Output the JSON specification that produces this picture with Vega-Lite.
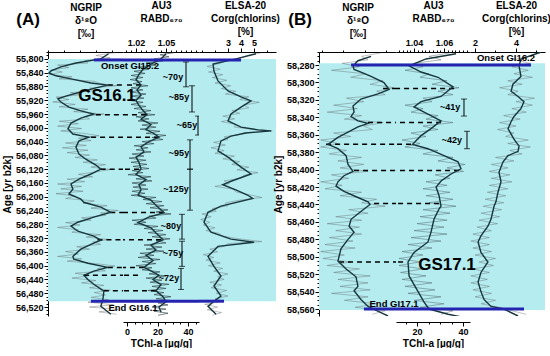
{
"$schema":"https://vega.github.io/schema/vega-lite/v6.json",
"padding":{"left":2,"top":0,"right":0,"bottom":0},
"bounds":"flush",
"spacing":0,
"datasets":{
"bgA":[{"age":55800,"age2":56503}],
"bgB":[{"age":58278,"age2":58561}],
"blueA_ng":[{"age":55803,"v":-41.63},{"age":56503,"v":-41.81}],
"blueA":[{"age":55803},{"age":56503}],
"blueA_el":[{"age":55803,"v":4.0},{"age":56503,"v":2.69}],
"blueB_ng":[{"age":58280,"v":-42.39},{"age":58560,"v":-41.79}],
"blueB":[{"age":58280},{"age":58560}],
"blueB_el":[{"age":58280,"v":4.73},{"age":58560,"v":4.39}],
"dashA_ng":[{"age":55876,"v":-40.75},{"age":55962,"v":-41.5},{"age":56027,"v":-41.8},{"age":56120,"v":-41.2},{"age":56246,"v":-40.6},{"age":56325,"v":-41.4},{"age":56405,"v":-40.75},{"age":56428,"v":-42.25},{"age":56473,"v":-41.0}],
"dashA_au":[{"age":55876,"v":1.025},{"age":55962,"v":1.030},{"age":56027,"v":1.043},{"age":56120,"v":1.023},{"age":56246,"v":1.048},{"age":56325,"v":1.045},{"age":56405,"v":1.028},{"age":56428,"v":1.022},{"age":56473,"v":1.040}],
"dashB_ng":[{"age":58307,"v":-40.90},{"age":58346,"v":-41.60},{"age":58371,"v":-43.55},{"age":58401,"v":-42.25},{"age":58439,"v":-41.32},{"age":58506,"v":-42.95}],
"dashB_au":[{"age":58307,"v":1.0667},{"age":58346,"v":1.058},{"age":58371,"v":1.038},{"age":58401,"v":1.070},{"age":58439,"v":1.0567},{"age":58506,"v":1.0327}],
"brA":[{"age":55809,"age2":55881,"v":1.070},{"age":55878,"age2":55954,"v":1.076},{"age":55966,"age2":56021,"v":1.082},{"age":56035,"age2":56120,"v":1.074},{"age":56120,"age2":56239,"v":1.074},{"age":56251,"age2":56323,"v":1.066},{"age":56329,"age2":56402,"v":1.066},{"age":56408,"age2":56469,"v":1.065}],
"labA":[{"age":55852,"v":1.057,"label":"~70y"},{"age":55910,"v":1.063,"label":"~85y"},{"age":55992,"v":1.071,"label":"~65y"},{"age":56073,"v":1.063,"label":"~95y"},{"age":56178,"v":1.060,"label":"~125y"},{"age":56285,"v":1.055,"label":"~80y"},{"age":56364,"v":1.057,"label":"~75y"},{"age":56437,"v":1.053,"label":"~72y"}],
"brB":[{"age":58319,"age2":58338.5,"v":1.0733},{"age":58356,"age2":58376,"v":1.0753}],
"labB":[{"age":58328,"v":1.064,"label":"~41y"},{"age":58366,"v":1.0653,"label":"~42y"}],
"evA":[{"age":55820,"v":1.014,"label":"Onset GI15.2"},{"age":56524,"v":1.017,"label":"End GI16.1"}],
"gsA":[{"age":55908,"v":0.991,"label":"GS16.1"}],
"evB_el":[{"age":58272,"v":3.51,"label":"Onset GI16.2"}],
"evB_au":[{"age":58554,"v":1.0267,"label":"End GI17.1"}],
"gsB":[{"age":58509.5,"v":0.634,"label":"GS17.1"}],
"ngA_s":[{"age":55785,"v":-40.70},{"age":55800,"v":-41.19},{"age":55812,"v":-42.75},{"age":55823,"v":-43.69},{"age":55835,"v":-44.31},{"age":55841,"v":-44.44},{"age":55849,"v":-44.00},{"age":55858,"v":-43.06},{"age":55870,"v":-41.81},{"age":55876,"v":-40.75},{"age":55884,"v":-41.50},{"age":55896,"v":-42.44},{"age":55908,"v":-43.38},{"age":55916,"v":-43.88},{"age":55925,"v":-43.69},{"age":55940,"v":-43.19},{"age":55951,"v":-42.44},{"age":55960,"v":-41.63},{"age":55972,"v":-42.44},{"age":55986,"v":-43.06},{"age":56003,"v":-43.25},{"age":56018,"v":-42.94},{"age":56027,"v":-41.94},{"age":56038,"v":-42.56},{"age":56056,"v":-42.75},{"age":56076,"v":-42.56},{"age":56091,"v":-42.13},{"age":56108,"v":-41.50},{"age":56120,"v":-41.19},{"age":56134,"v":-41.81},{"age":56149,"v":-42.56},{"age":56163,"v":-43.06},{"age":56178,"v":-42.94},{"age":56192,"v":-43.19},{"age":56207,"v":-42.44},{"age":56216,"v":-42.25},{"age":56230,"v":-41.19},{"age":56245,"v":-40.56},{"age":56259,"v":-41.63},{"age":56274,"v":-42.63},{"age":56285,"v":-43.06},{"age":56300,"v":-42.63},{"age":56314,"v":-41.63},{"age":56326,"v":-41.19},{"age":56338,"v":-41.81},{"age":56352,"v":-42.44},{"age":56373,"v":-42.94},{"age":56381,"v":-42.88},{"age":56393,"v":-42.00},{"age":56405,"v":-40.75},{"age":56416,"v":-41.63},{"age":56428,"v":-42.25},{"age":56440,"v":-42.00},{"age":56454,"v":-41.63},{"age":56474,"v":-41.00},{"age":56498,"v":-41.06},{"age":56518,"v":-41.19},{"age":56541,"v":-40.56}],
"ngA_r":[{"age":55782,"v":-40.3},{"age":55790,"v":-41.5},{"age":55797,"v":-40.6},{"age":55805,"v":-42.2},{"age":55812,"v":-42.0},{"age":55818,"v":-43.9},{"age":55825,"v":-43.2},{"age":55832,"v":-44.3},{"age":55838,"v":-43.6},{"age":55845,"v":-44.4},{"age":55852,"v":-43.0},{"age":55858,"v":-43.8},{"age":55865,"v":-41.6},{"age":55872,"v":-41.2},{"age":55878,"v":-40.2},{"age":55885,"v":-41.9},{"age":55891,"v":-41.3},{"age":55898,"v":-43.1},{"age":55904,"v":-42.4},{"age":55911,"v":-44.0},{"age":55918,"v":-43.2},{"age":55925,"v":-44.2},{"age":55932,"v":-42.8},{"age":55939,"v":-43.8},{"age":55946,"v":-42.0},{"age":55953,"v":-42.9},{"age":55960,"v":-41.0},{"age":55967,"v":-42.2},{"age":55974,"v":-41.9},{"age":55981,"v":-43.8},{"age":55988,"v":-42.6},{"age":55995,"v":-43.9},{"age":56002,"v":-42.4},{"age":56009,"v":-43.7},{"age":56016,"v":-42.3},{"age":56023,"v":-41.3},{"age":56030,"v":-42.6},{"age":56037,"v":-41.8},{"age":56044,"v":-43.4},{"age":56051,"v":-42.1},{"age":56058,"v":-43.6},{"age":56065,"v":-42.0},{"age":56072,"v":-43.3},{"age":56079,"v":-41.9},{"age":56086,"v":-42.8},{"age":56093,"v":-41.4},{"age":56100,"v":-42.3},{"age":56107,"v":-40.9},{"age":56114,"v":-41.8},{"age":56121,"v":-40.6},{"age":56128,"v":-41.5},{"age":56135,"v":-42.6},{"age":56142,"v":-41.7},{"age":56149,"v":-43.3},{"age":56156,"v":-42.2},{"age":56163,"v":-43.9},{"age":56170,"v":-42.4},{"age":56177,"v":-43.7},{"age":56184,"v":-42.3},{"age":56191,"v":-44.0},{"age":56198,"v":-42.8},{"age":56205,"v":-43.4},{"age":56212,"v":-41.6},{"age":56219,"v":-42.3},{"age":56226,"v":-40.8},{"age":56233,"v":-41.8},{"age":56240,"v":-40.1},{"age":56247,"v":-41.2},{"age":56254,"v":-40.9},{"age":56261,"v":-42.4},{"age":56268,"v":-41.8},{"age":56275,"v":-43.4},{"age":56282,"v":-42.5},{"age":56289,"v":-43.9},{"age":56296,"v":-42.6},{"age":56303,"v":-43.0},{"age":56310,"v":-41.2},{"age":56317,"v":-42.1},{"age":56324,"v":-40.7},{"age":56331,"v":-41.7},{"age":56338,"v":-41.2},{"age":56345,"v":-42.7},{"age":56352,"v":-41.9},{"age":56359,"v":-43.4},{"age":56366,"v":-42.6},{"age":56373,"v":-43.9},{"age":56380,"v":-42.4},{"age":56387,"v":-43.3},{"age":56394,"v":-41.5},{"age":56401,"v":-40.3},{"age":56408,"v":-41.4},{"age":56415,"v":-40.9},{"age":56422,"v":-42.8},{"age":56429,"v":-41.9},{"age":56436,"v":-43.0},{"age":56443,"v":-41.5},{"age":56450,"v":-42.4},{"age":56457,"v":-41.0},{"age":56464,"v":-41.9},{"age":56471,"v":-40.6},{"age":56478,"v":-41.6},{"age":56485,"v":-40.9},{"age":56492,"v":-41.8},{"age":56499,"v":-40.7},{"age":56506,"v":-42.0},{"age":56513,"v":-40.4},{"age":56520,"v":-41.9},{"age":56527,"v":-40.1},{"age":56534,"v":-41.3},{"age":56541,"v":-40.2}],
"auA_s":[{"age":55785,"v":1.050},{"age":55800,"v":1.045},{"age":55815,"v":1.035},{"age":55830,"v":1.027},{"age":55845,"v":1.023},{"age":55860,"v":1.020},{"age":55876,"v":1.025},{"age":55890,"v":1.021},{"age":55905,"v":1.025},{"age":55920,"v":1.020},{"age":55935,"v":1.023},{"age":55950,"v":1.027},{"age":55962,"v":1.031},{"age":55975,"v":1.025},{"age":55990,"v":1.035},{"age":56005,"v":1.030},{"age":56015,"v":1.037},{"age":56027,"v":1.043},{"age":56040,"v":1.033},{"age":56055,"v":1.025},{"age":56070,"v":1.028},{"age":56085,"v":1.020},{"age":56100,"v":1.023},{"age":56120,"v":1.025},{"age":56135,"v":1.020},{"age":56150,"v":1.030},{"age":56165,"v":1.023},{"age":56180,"v":1.025},{"age":56195,"v":1.022},{"age":56210,"v":1.035},{"age":56225,"v":1.040},{"age":56246,"v":1.048},{"age":56260,"v":1.032},{"age":56275,"v":1.022},{"age":56290,"v":1.035},{"age":56305,"v":1.040},{"age":56325,"v":1.047},{"age":56340,"v":1.035},{"age":56355,"v":1.040},{"age":56370,"v":1.030},{"age":56385,"v":1.037},{"age":56405,"v":1.028},{"age":56415,"v":1.035},{"age":56428,"v":1.043},{"age":56440,"v":1.037},{"age":56455,"v":1.045},{"age":56473,"v":1.040},{"age":56490,"v":1.047},{"age":56505,"v":1.050},{"age":56520,"v":1.043},{"age":56535,"v":1.045}],
"auA_r":[{"age":55782,"v":1.058},{"age":55788,"v":1.044},{"age":55794,"v":1.053},{"age":55800,"v":1.038},{"age":55806,"v":1.047},{"age":55812,"v":1.030},{"age":55818,"v":1.040},{"age":55824,"v":1.022},{"age":55830,"v":1.033},{"age":55836,"v":1.018},{"age":55842,"v":1.029},{"age":55848,"v":1.015},{"age":55854,"v":1.027},{"age":55860,"v":1.014},{"age":55866,"v":1.026},{"age":55872,"v":1.017},{"age":55878,"v":1.032},{"age":55884,"v":1.015},{"age":55890,"v":1.027},{"age":55896,"v":1.014},{"age":55902,"v":1.030},{"age":55908,"v":1.016},{"age":55914,"v":1.028},{"age":55920,"v":1.013},{"age":55926,"v":1.027},{"age":55932,"v":1.015},{"age":55938,"v":1.030},{"age":55944,"v":1.018},{"age":55950,"v":1.035},{"age":55956,"v":1.022},{"age":55962,"v":1.039},{"age":55968,"v":1.020},{"age":55974,"v":1.033},{"age":55980,"v":1.022},{"age":55986,"v":1.042},{"age":55992,"v":1.026},{"age":55998,"v":1.040},{"age":56004,"v":1.024},{"age":56010,"v":1.044},{"age":56016,"v":1.030},{"age":56022,"v":1.050},{"age":56028,"v":1.036},{"age":56034,"v":1.047},{"age":56040,"v":1.026},{"age":56046,"v":1.038},{"age":56052,"v":1.018},{"age":56058,"v":1.032},{"age":56064,"v":1.020},{"age":56070,"v":1.035},{"age":56076,"v":1.016},{"age":56082,"v":1.028},{"age":56088,"v":1.013},{"age":56094,"v":1.030},{"age":56100,"v":1.015},{"age":56106,"v":1.031},{"age":56112,"v":1.017},{"age":56118,"v":1.033},{"age":56124,"v":1.016},{"age":56130,"v":1.027},{"age":56136,"v":1.012},{"age":56142,"v":1.035},{"age":56148,"v":1.020},{"age":56154,"v":1.036},{"age":56160,"v":1.016},{"age":56166,"v":1.030},{"age":56172,"v":1.017},{"age":56178,"v":1.032},{"age":56184,"v":1.016},{"age":56190,"v":1.029},{"age":56196,"v":1.015},{"age":56202,"v":1.040},{"age":56208,"v":1.027},{"age":56214,"v":1.046},{"age":56220,"v":1.030},{"age":56226,"v":1.048},{"age":56232,"v":1.034},{"age":56238,"v":1.052},{"age":56244,"v":1.040},{"age":56250,"v":1.055},{"age":56256,"v":1.033},{"age":56262,"v":1.040},{"age":56268,"v":1.016},{"age":56274,"v":1.030},{"age":56280,"v":1.018},{"age":56286,"v":1.042},{"age":56292,"v":1.028},{"age":56298,"v":1.047},{"age":56304,"v":1.032},{"age":56310,"v":1.050},{"age":56316,"v":1.036},{"age":56322,"v":1.054},{"age":56328,"v":1.040},{"age":56334,"v":1.050},{"age":56340,"v":1.028},{"age":56346,"v":1.046},{"age":56352,"v":1.030},{"age":56358,"v":1.048},{"age":56364,"v":1.024},{"age":56370,"v":1.038},{"age":56376,"v":1.022},{"age":56382,"v":1.044},{"age":56388,"v":1.026},{"age":56394,"v":1.040},{"age":56400,"v":1.020},{"age":56406,"v":1.036},{"age":56412,"v":1.026},{"age":56418,"v":1.044},{"age":56424,"v":1.033},{"age":56430,"v":1.050},{"age":56436,"v":1.030},{"age":56442,"v":1.046},{"age":56448,"v":1.034},{"age":56454,"v":1.053},{"age":56460,"v":1.036},{"age":56466,"v":1.050},{"age":56472,"v":1.032},{"age":56478,"v":1.048},{"age":56484,"v":1.038},{"age":56490,"v":1.055},{"age":56496,"v":1.040},{"age":56502,"v":1.058},{"age":56508,"v":1.042},{"age":56514,"v":1.052},{"age":56520,"v":1.036},{"age":56526,"v":1.050},{"age":56532,"v":1.038},{"age":56538,"v":1.052},{"age":56544,"v":1.042}],
"elA_s":[{"age":55785,"v":5.15},{"age":55800,"v":3.62},{"age":55815,"v":1.85},{"age":55835,"v":1.92},{"age":55864,"v":2.23},{"age":55893,"v":3.00},{"age":55910,"v":4.00},{"age":55922,"v":4.77},{"age":55940,"v":4.00},{"age":55960,"v":3.23},{"age":55980,"v":3.00},{"age":55998,"v":4.00},{"age":56006,"v":5.31},{"age":56009,"v":6.31},{"age":56015,"v":4.38},{"age":56024,"v":3.23},{"age":56038,"v":2.46},{"age":56067,"v":2.23},{"age":56085,"v":3.00},{"age":56114,"v":4.00},{"age":56134,"v":4.77},{"age":56155,"v":3.23},{"age":56165,"v":2.6},{"age":56180,"v":3.6},{"age":56195,"v":4.5},{"age":56205,"v":4.9},{"age":56227,"v":2.46},{"age":56245,"v":1.46},{"age":56274,"v":1.15},{"age":56303,"v":1.69},{"age":56323,"v":3.23},{"age":56332,"v":5.00},{"age":56344,"v":2.23},{"age":56373,"v":1.46},{"age":56402,"v":1.92},{"age":56430,"v":2.46},{"age":56459,"v":1.92},{"age":56488,"v":2.46},{"age":56503,"v":1.92},{"age":56518,"v":1.46},{"age":56541,"v":2.08}],
"elA_r":[{"age":55782,"v":5.6},{"age":55790,"v":4.5},{"age":55798,"v":3.9},{"age":55806,"v":2.8},{"age":55814,"v":2.3},{"age":55822,"v":1.4},{"age":55830,"v":2.4},{"age":55838,"v":1.5},{"age":55846,"v":2.6},{"age":55854,"v":1.8},{"age":55862,"v":2.9},{"age":55870,"v":2.0},{"age":55878,"v":3.2},{"age":55886,"v":2.5},{"age":55894,"v":3.6},{"age":55902,"v":2.8},{"age":55910,"v":4.6},{"age":55918,"v":3.9},{"age":55926,"v":5.4},{"age":55934,"v":4.2},{"age":55942,"v":4.6},{"age":55950,"v":3.3},{"age":55958,"v":3.9},{"age":55966,"v":2.6},{"age":55974,"v":3.5},{"age":55982,"v":2.5},{"age":55990,"v":3.6},{"age":55998,"v":3.5},{"age":56004,"v":4.8},{"age":56009,"v":6.4},{"age":56014,"v":4.2},{"age":56020,"v":3.8},{"age":56026,"v":2.7},{"age":56034,"v":3.0},{"age":56042,"v":1.9},{"age":56050,"v":2.8},{"age":56058,"v":1.7},{"age":56066,"v":2.7},{"age":56074,"v":2.0},{"age":56082,"v":3.5},{"age":56090,"v":2.6},{"age":56098,"v":3.9},{"age":56106,"v":3.3},{"age":56114,"v":4.6},{"age":56122,"v":3.7},{"age":56130,"v":5.3},{"age":56138,"v":4.2},{"age":56146,"v":4.0},{"age":56154,"v":2.7},{"age":56162,"v":3.1},{"age":56170,"v":2.0},{"age":56178,"v":3.4},{"age":56186,"v":3.6},{"age":56194,"v":4.6},{"age":56202,"v":5.6},{"age":56210,"v":3.9},{"age":56218,"v":2.8},{"age":56226,"v":3.0},{"age":56234,"v":1.8},{"age":56242,"v":2.1},{"age":56250,"v":1.0},{"age":56258,"v":1.7},{"age":56266,"v":0.9},{"age":56274,"v":1.6},{"age":56282,"v":1.1},{"age":56290,"v":2.0},{"age":56298,"v":1.3},{"age":56306,"v":2.3},{"age":56314,"v":2.6},{"age":56322,"v":3.8},{"age":56330,"v":5.6},{"age":56336,"v":3.0},{"age":56344,"v":2.7},{"age":56352,"v":1.6},{"age":56360,"v":2.2},{"age":56368,"v":1.1},{"age":56376,"v":1.9},{"age":56384,"v":1.3},{"age":56392,"v":2.4},{"age":56400,"v":1.5},{"age":56408,"v":2.6},{"age":56416,"v":1.9},{"age":56424,"v":3.0},{"age":56432,"v":2.2},{"age":56440,"v":2.7},{"age":56448,"v":1.6},{"age":56456,"v":2.5},{"age":56464,"v":1.7},{"age":56472,"v":2.9},{"age":56480,"v":2.1},{"age":56488,"v":3.0},{"age":56496,"v":2.0},{"age":56504,"v":2.6},{"age":56512,"v":1.2},{"age":56520,"v":2.2},{"age":56528,"v":1.4},{"age":56536,"v":2.5},{"age":56544,"v":1.8}],
"ngB_s":[{"age":58270,"v":-41.46},{"age":58275,"v":-42.07},{"age":58281,"v":-42.30},{"age":58285,"v":-42.25},{"age":58288,"v":-41.93},{"age":58293,"v":-41.46},{"age":58300,"v":-40.86},{"age":58308,"v":-40.62},{"age":58313,"v":-41.14},{"age":58319,"v":-41.93},{"age":58327,"v":-42.30},{"age":58334,"v":-42.25},{"age":58339,"v":-42.39},{"age":58344,"v":-42.07},{"age":58347,"v":-41.60},{"age":58351,"v":-42.07},{"age":58357,"v":-42.53},{"age":58363,"v":-43.00},{"age":58371,"v":-43.46},{"age":58376,"v":-43.00},{"age":58384,"v":-42.62},{"age":58394,"v":-42.53},{"age":58402,"v":-42.30},{"age":58407,"v":-42.72},{"age":58414,"v":-43.00},{"age":58419,"v":-43.09},{"age":58425,"v":-42.72},{"age":58432,"v":-42.07},{"age":58437,"v":-41.60},{"age":58440,"v":-41.51},{"age":58448,"v":-41.93},{"age":58457,"v":-42.39},{"age":58465,"v":-42.48},{"age":58472,"v":-42.25},{"age":58480,"v":-42.53},{"age":58491,"v":-42.86},{"age":58505,"v":-43.00},{"age":58514,"v":-42.62},{"age":58523,"v":-42.16},{"age":58534,"v":-42.07},{"age":58539,"v":-42.25},{"age":58549,"v":-41.93},{"age":58557,"v":-41.60},{"age":58564,"v":-41.00},{"age":58568,"v":-40.67}],
"ngB_r":[{"age":58266,"v":-41.0},{"age":58270,"v":-41.9},{"age":58274,"v":-41.6},{"age":58278,"v":-42.8},{"age":58282,"v":-42.0},{"age":58286,"v":-43.3},{"age":58290,"v":-41.7},{"age":58294,"v":-42.4},{"age":58298,"v":-40.9},{"age":58302,"v":-41.5},{"age":58306,"v":-40.4},{"age":58310,"v":-41.2},{"age":58314,"v":-40.8},{"age":58318,"v":-42.6},{"age":58322,"v":-41.8},{"age":58326,"v":-43.2},{"age":58330,"v":-42.1},{"age":58334,"v":-43.5},{"age":58338,"v":-41.9},{"age":58342,"v":-42.7},{"age":58346,"v":-40.9},{"age":58350,"v":-41.8},{"age":58354,"v":-41.4},{"age":58358,"v":-43.2},{"age":58362,"v":-42.4},{"age":58366,"v":-43.8},{"age":58370,"v":-43.0},{"age":58374,"v":-43.8},{"age":58378,"v":-42.6},{"age":58382,"v":-43.4},{"age":58386,"v":-41.9},{"age":58390,"v":-43.0},{"age":58394,"v":-41.8},{"age":58398,"v":-42.9},{"age":58402,"v":-41.6},{"age":58406,"v":-43.3},{"age":58410,"v":-42.5},{"age":58414,"v":-43.8},{"age":58418,"v":-42.8},{"age":58422,"v":-43.6},{"age":58426,"v":-41.9},{"age":58430,"v":-42.9},{"age":58434,"v":-41.2},{"age":58438,"v":-41.9},{"age":58442,"v":-40.8},{"age":58446,"v":-42.5},{"age":58450,"v":-41.6},{"age":58454,"v":-43.1},{"age":58458,"v":-41.9},{"age":58462,"v":-43.5},{"age":58466,"v":-42.0},{"age":58470,"v":-43.1},{"age":58474,"v":-41.9},{"age":58478,"v":-43.4},{"age":58482,"v":-42.3},{"age":58486,"v":-43.6},{"age":58490,"v":-42.2},{"age":58494,"v":-43.8},{"age":58498,"v":-42.7},{"age":58502,"v":-43.7},{"age":58506,"v":-42.4},{"age":58510,"v":-43.5},{"age":58514,"v":-42.0},{"age":58518,"v":-43.2},{"age":58522,"v":-41.5},{"age":58526,"v":-43.0},{"age":58530,"v":-41.6},{"age":58534,"v":-42.9},{"age":58538,"v":-41.5},{"age":58542,"v":-43.3},{"age":58546,"v":-41.6},{"age":58550,"v":-42.7},{"age":58554,"v":-41.2},{"age":58558,"v":-42.2},{"age":58562,"v":-40.8},{"age":58566,"v":-41.4}],
"auB_s":[{"age":58267,"v":1.068},{"age":58273,"v":1.048},{"age":58281,"v":1.0367},{"age":58288,"v":1.0447},{"age":58294,"v":1.056},{"age":58305,"v":1.066},{"age":58316,"v":1.058},{"age":58322,"v":1.0447},{"age":58328,"v":1.040},{"age":58334,"v":1.0467},{"age":58344,"v":1.058},{"age":58353,"v":1.0513},{"age":58361,"v":1.0447},{"age":58371,"v":1.039},{"age":58376,"v":1.0493},{"age":58384,"v":1.060},{"age":58391,"v":1.0693},{"age":58399,"v":1.0713},{"age":58405,"v":1.0647},{"age":58413,"v":1.058},{"age":58420,"v":1.0547},{"age":58430,"v":1.0567},{"age":58442,"v":1.058},{"age":58445,"v":1.0567},{"age":58457,"v":1.0533},{"age":58472,"v":1.0513},{"age":58483,"v":1.0493},{"age":58495,"v":1.040},{"age":58506,"v":1.036},{"age":58522,"v":1.0367},{"age":58540,"v":1.0427},{"age":58552,"v":1.0467},{"age":58560,"v":1.050},{"age":58566,"v":1.0627},{"age":58569,"v":1.0713}],
"auB_r":[{"age":58266,"v":1.064},{"age":58270,"v":1.050},{"age":58274,"v":1.058},{"age":58278,"v":1.040},{"age":58282,"v":1.046},{"age":58286,"v":1.034},{"age":58290,"v":1.050},{"age":58294,"v":1.044},{"age":58298,"v":1.062},{"age":58302,"v":1.052},{"age":58306,"v":1.070},{"age":58310,"v":1.056},{"age":58314,"v":1.066},{"age":58318,"v":1.046},{"age":58322,"v":1.052},{"age":58326,"v":1.034},{"age":58330,"v":1.046},{"age":58334,"v":1.038},{"age":58338,"v":1.056},{"age":58342,"v":1.048},{"age":58346,"v":1.066},{"age":58350,"v":1.046},{"age":58354,"v":1.056},{"age":58358,"v":1.038},{"age":58362,"v":1.048},{"age":58366,"v":1.032},{"age":58370,"v":1.044},{"age":58374,"v":1.034},{"age":58378,"v":1.056},{"age":58382,"v":1.046},{"age":58386,"v":1.066},{"age":58390,"v":1.056},{"age":58394,"v":1.074},{"age":58398,"v":1.062},{"age":58402,"v":1.073},{"age":58406,"v":1.054},{"age":58410,"v":1.064},{"age":58414,"v":1.048},{"age":58418,"v":1.062},{"age":58422,"v":1.046},{"age":58426,"v":1.064},{"age":58430,"v":1.048},{"age":58434,"v":1.066},{"age":58438,"v":1.050},{"age":58442,"v":1.068},{"age":58446,"v":1.046},{"age":58450,"v":1.064},{"age":58454,"v":1.044},{"age":58458,"v":1.062},{"age":58462,"v":1.042},{"age":58466,"v":1.060},{"age":58470,"v":1.040},{"age":58474,"v":1.062},{"age":58478,"v":1.038},{"age":58482,"v":1.058},{"age":58486,"v":1.036},{"age":58490,"v":1.052},{"age":58494,"v":1.032},{"age":58498,"v":1.046},{"age":58502,"v":1.030},{"age":58506,"v":1.044},{"age":58510,"v":1.030},{"age":58514,"v":1.046},{"age":58518,"v":1.031},{"age":58522,"v":1.048},{"age":58526,"v":1.032},{"age":58530,"v":1.052},{"age":58534,"v":1.034},{"age":58538,"v":1.054},{"age":58542,"v":1.036},{"age":58546,"v":1.058},{"age":58550,"v":1.040},{"age":58554,"v":1.060},{"age":58558,"v":1.044},{"age":58562,"v":1.066},{"age":58566,"v":1.058}],
"elB_s":[{"age":58265,"v":5.22},{"age":58273,"v":4.24},{"age":58281,"v":4.15},{"age":58293,"v":4.24},{"age":58302,"v":3.85},{"age":58310,"v":3.76},{"age":58316,"v":4.10},{"age":58322,"v":4.39},{"age":58330,"v":4.24},{"age":58339,"v":3.90},{"age":58345,"v":3.76},{"age":58353,"v":3.61},{"age":58365,"v":3.90},{"age":58373,"v":4.15},{"age":58379,"v":4.10},{"age":58384,"v":3.61},{"age":58391,"v":3.37},{"age":58403,"v":3.17},{"age":58414,"v":3.27},{"age":58426,"v":3.12},{"age":58437,"v":3.02},{"age":58442,"v":2.93},{"age":58457,"v":2.78},{"age":58465,"v":2.63},{"age":58476,"v":2.29},{"age":58483,"v":2.15},{"age":58495,"v":2.29},{"age":58506,"v":2.63},{"age":58518,"v":2.29},{"age":58529,"v":2.15},{"age":58540,"v":2.29},{"age":58549,"v":2.44},{"age":58557,"v":2.78},{"age":58560,"v":3.40},{"age":58568,"v":4.10}],
"elB_r":[{"age":58266,"v":5.2},{"age":58270,"v":4.6},{"age":58274,"v":3.9},{"age":58278,"v":4.7},{"age":58282,"v":3.8},{"age":58286,"v":4.6},{"age":58290,"v":3.9},{"age":58294,"v":4.8},{"age":58298,"v":3.6},{"age":58302,"v":4.3},{"age":58306,"v":3.2},{"age":58310,"v":4.1},{"age":58314,"v":3.6},{"age":58318,"v":4.9},{"age":58322,"v":4.0},{"age":58326,"v":4.8},{"age":58330,"v":3.8},{"age":58334,"v":4.5},{"age":58338,"v":3.4},{"age":58342,"v":4.2},{"age":58346,"v":3.2},{"age":58350,"v":4.0},{"age":58354,"v":3.1},{"age":58358,"v":3.9},{"age":58362,"v":3.5},{"age":58366,"v":4.6},{"age":58370,"v":3.6},{"age":58374,"v":4.7},{"age":58378,"v":3.7},{"age":58382,"v":4.3},{"age":58386,"v":3.0},{"age":58390,"v":3.9},{"age":58394,"v":2.8},{"age":58398,"v":3.6},{"age":58402,"v":2.7},{"age":58406,"v":3.7},{"age":58410,"v":2.8},{"age":58414,"v":3.8},{"age":58418,"v":2.7},{"age":58422,"v":3.6},{"age":58426,"v":2.6},{"age":58430,"v":3.5},{"age":58434,"v":2.5},{"age":58438,"v":3.4},{"age":58442,"v":2.4},{"age":58446,"v":3.3},{"age":58450,"v":2.3},{"age":58454,"v":3.2},{"age":58458,"v":2.2},{"age":58462,"v":3.1},{"age":58466,"v":2.1},{"age":58470,"v":2.8},{"age":58474,"v":1.9},{"age":58478,"v":2.7},{"age":58482,"v":1.8},{"age":58486,"v":2.7},{"age":58490,"v":1.9},{"age":58494,"v":2.8},{"age":58498,"v":2.0},{"age":58502,"v":3.0},{"age":58506,"v":2.2},{"age":58510,"v":2.9},{"age":58514,"v":1.9},{"age":58518,"v":2.7},{"age":58522,"v":1.8},{"age":58526,"v":2.6},{"age":58530,"v":1.8},{"age":58534,"v":2.7},{"age":58538,"v":1.9},{"age":58542,"v":2.8},{"age":58546,"v":2.0},{"age":58550,"v":3.0},{"age":58554,"v":2.3},{"age":58558,"v":3.2},{"age":58562,"v":3.8},{"age":58566,"v":4.5}]
},
"hconcat":[
{
"width":75,"height":264,
"encoding":{
"y":{"field":"age","type":"quantitative","scale":{"domain":[55780,56546],"reverse":true,"nice":false,"zero":false},
"axis":{"title":"Age [yr b2k]","format":",d","values":[55780,55790,55800,55810,55820,55830,55840,55850,55860,55870,55880,55890,55900,55910,55920,55930,55940,55950,55960,55970,55980,55990,56000,56010,56020,56030,56040,56050,56060,56070,56080,56090,56100,56110,56120,56130,56140,56150,56160,56170,56180,56190,56200,56210,56220,56230,56240,56250,56260,56270,56280,56290,56300,56310,56320,56330,56340,56350,56360,56370,56380,56390,56400,56410,56420,56430,56440,56450,56460,56470,56480,56490,56500,56510,56520,56530,56540],"labelExpr":"datum.value % 40 == 0 ? datum.label : ''","tickSize":{"condition":{"test":"datum.value % 40 == 0","value":4},"value":2},"titlePadding":3,"labelPadding":1}},
"x":{"field":"v","type":"quantitative","scale":{"domain":[-44.5,-39.8],"nice":false,"zero":false},
"axis":{"orient":"top","title":["NGRIP","δ¹⁸O","[‰]"],"format":"d","values":[-44.5,-44,-43.5,-43,-42.5,-42,-41.5,-41,-40.5,-40],"labelExpr":"datum.value == -44 || datum.value == -42 ? datum.label : ''","tickSize":{"condition":{"test":"datum.value == -44 || datum.value == -42","value":4},"value":2},"labelPadding":1,"titlePadding":2}}
},
"layer":[
{"data":{"name":"bgA"},"mark":{"type":"rect","color":"#b4ecf0"},"encoding":{"x":{"value":0},"x2":{"value":"width"},"y2":{"field":"age2"}}},
{"data":{"name":"ngA_r"},"mark":{"type":"line","color":"#555555","opacity":0.45,"strokeWidth":0.8,"clip":true},"encoding":{"order":{"field":"age"}}},
{"data":{"name":"dashA_ng"},"mark":{"type":"rule","color":"#000000","strokeDash":[5,4],"strokeWidth":1.5},"encoding":{"x2":{"datum":-39.8}}},
{"data":{"name":"ngA_s"},"mark":{"type":"line","color":"#17363d","strokeWidth":1.4,"clip":true},"encoding":{"order":{"field":"age"}}},
{"data":{"name":"blueA_ng"},"mark":{"type":"rule","color":"#2424b0","strokeWidth":3},"encoding":{"x2":{"datum":-39.8}}},
{"data":{"values":[{"age":55687,"v":-45.75,"label":"(A)"}]},"mark":{"type":"text","fontSize":17,"fontWeight":"bold"},"encoding":{"text":{"field":"label","type":"nominal"}}}
]
},
{
"width":76,"height":264,
"encoding":{"y":{"field":"age","type":"quantitative","scale":{"domain":[55780,56546],"reverse":true,"nice":false,"zero":false},"axis":null}},
"resolve":{"scale":{"x":"independent"},"axis":{"x":"independent"}},
"layer":[
{"encoding":{"x":{"field":"v","type":"quantitative","scale":{"domain":[1.007,1.083],"nice":false,"zero":false},
"axis":{"orient":"top","title":["AU3","RABD₆₇₀"," "],"format":".2f","values":[1.01,1.015,1.02,1.025,1.03,1.035,1.04,1.045,1.05,1.055,1.06,1.065,1.07,1.075,1.08],"labelExpr":"abs(datum.value-1.02)<0.000001 || abs(datum.value-1.05)<0.000001 ? datum.label : ''","tickSize":{"condition":{"test":"abs(datum.value-1.02)<0.000001 || abs(datum.value-1.05)<0.000001","value":4},"value":2},"labelPadding":1,"titlePadding":2}}},
"layer":[
{"data":{"name":"bgA"},"mark":{"type":"rect","color":"#b4ecf0"},"encoding":{"x":{"value":0},"x2":{"value":"width"},"y2":{"field":"age2"}}},
{"data":{"name":"auA_r"},"mark":{"type":"line","color":"#2c4043","opacity":0.7,"strokeWidth":0.9,"clip":true},"encoding":{"order":{"field":"age"}}},
{"data":{"name":"dashA_au"},"mark":{"type":"rule","color":"#000000","strokeDash":[5,4],"strokeWidth":1.5},"encoding":{"x2":{"datum":1.007}}},
{"data":{"name":"auA_s"},"mark":{"type":"line","color":"#17363d","strokeWidth":1.4,"clip":true},"encoding":{"order":{"field":"age"}}},
{"data":{"name":"blueA"},"mark":{"type":"rule","color":"#2424b0","strokeWidth":3},"encoding":{"x":{"value":0},"x2":{"value":"width"}}},
{"data":{"name":"brA"},"mark":{"type":"errorbar","ticks":true,"color":"#000000","size":6,"thickness":1},"encoding":{"y2":{"field":"age2"}}},
{"data":{"name":"labA"},"mark":{"type":"text","fontSize":9,"fontWeight":"bold"},"encoding":{"text":{"field":"label","type":"nominal"}}},
{"data":{"name":"evA"},"mark":{"type":"text","fontSize":9.5,"fontWeight":"bold"},"encoding":{"text":{"field":"label","type":"nominal"}}},
{"data":{"name":"gsA"},"mark":{"type":"text","fontSize":17,"fontWeight":"bold"},"encoding":{"text":{"field":"label","type":"nominal"}}}
]},
{"data":{"values":[{"t":0,"age":56540},{"t":40,"age":56540}]},"mark":{"type":"point","opacity":0},
"encoding":{"x":{"field":"t","type":"quantitative","scale":{"domain":[-2.62,47.2],"nice":false,"zero":false},
"axis":{"orient":"bottom","offset":6,"title":"TChl-a [µg/g]","format":"d","values":[0,5,10,15,20,25,30,35,40,45],"labelExpr":"datum.value % 20 == 0 ? datum.label : ''","tickSize":{"condition":{"test":"datum.value % 20 == 0","value":4},"value":2},"labelPadding":1,"titlePadding":2}}}}
]
},
{
"width":77,"height":264,
"encoding":{
"y":{"field":"age","type":"quantitative","scale":{"domain":[55780,56546],"reverse":true,"nice":false,"zero":false},"axis":null},
"x":{"field":"v","type":"quantitative","scale":{"domain":[0.77,6.69],"nice":false,"zero":false},
"axis":{"orient":"top","title":["ELSA-20","Corg(chlorins)","[%]"],"titleX":46,"format":"d","values":[1,1.25,1.5,1.75,2,2.25,2.5,2.75,3,3.25,3.5,3.75,4,4.25,4.5,4.75,5,5.25,5.5,5.75,6,6.25,6.5],"labelExpr":"datum.value == 3 || datum.value == 4 || datum.value == 5 ? datum.label : ''","tickSize":{"condition":{"test":"datum.value == 3 || datum.value == 4 || datum.value == 5","value":4},"value":2},"labelPadding":1,"titlePadding":2}}
},
"layer":[
{"data":{"name":"bgA"},"mark":{"type":"rect","color":"#b4ecf0"},"encoding":{"x":{"value":0},"x2":{"value":"width"},"y2":{"field":"age2"}}},
{"data":{"name":"elA_r"},"mark":{"type":"line","color":"#555555","opacity":0.45,"strokeWidth":0.8,"clip":true},"encoding":{"order":{"field":"age"}}},
{"data":{"name":"elA_s"},"mark":{"type":"line","color":"#17363d","strokeWidth":1.4,"clip":true},"encoding":{"order":{"field":"age"}}},
{"data":{"name":"blueA_el"},"mark":{"type":"rule","color":"#2424b0","strokeWidth":3},"encoding":{"x2":{"datum":0.77}}}
]
},
{"width":43,"height":264,"data":{"values":[{}]},"mark":{"type":"point","opacity":0}},
{
"width":77,"height":264,
"encoding":{
"y":{"field":"age","type":"quantitative","scale":{"domain":[58265,58568],"reverse":true,"nice":false,"zero":false},
"axis":{"title":"Age [yr b2k]","format":",d","values":[58265,58270,58275,58280,58285,58290,58295,58300,58305,58310,58315,58320,58325,58330,58335,58340,58345,58350,58355,58360,58365,58370,58375,58380,58385,58390,58395,58400,58405,58410,58415,58420,58425,58430,58435,58440,58445,58450,58455,58460,58465,58470,58475,58480,58485,58490,58495,58500,58505,58510,58515,58520,58525,58530,58535,58540,58545,58550,58555,58560,58565],"labelExpr":"datum.value % 20 == 0 ? datum.label : ''","tickSize":{"condition":{"test":"datum.value % 20 == 0","value":4},"value":2},"titlePadding":3,"labelPadding":1}},
"x":{"field":"v","type":"quantitative","scale":{"domain":[-43.88,-40.3],"nice":false,"zero":false},
"axis":{"orient":"top","title":["NGRIP","δ¹⁸O","[‰]"],"format":"d","values":[-43.75,-43.5,-43.25,-43,-42.75,-42.5,-42.25,-42,-41.75,-41.5,-41.25,-41,-40.75,-40.5],"labelExpr":"datum.value == -43 || datum.value == -42 || datum.value == -41 ? datum.label : ''","tickSize":{"condition":{"test":"datum.value == -43 || datum.value == -42 || datum.value == -41","value":4},"value":2},"labelPadding":1,"titlePadding":2}}
},
"layer":[
{"data":{"name":"bgB"},"mark":{"type":"rect","color":"#b4ecf0"},"encoding":{"x":{"value":0},"x2":{"value":"width"},"y2":{"field":"age2"}}},
{"data":{"name":"ngB_r"},"mark":{"type":"line","color":"#555555","opacity":0.45,"strokeWidth":0.8,"clip":true},"encoding":{"order":{"field":"age"}}},
{"data":{"name":"dashB_ng"},"mark":{"type":"rule","color":"#000000","strokeDash":[5,4],"strokeWidth":1.5},"encoding":{"x2":{"datum":-40.3}}},
{"data":{"name":"ngB_s"},"mark":{"type":"line","color":"#17363d","strokeWidth":1.4,"clip":true},"encoding":{"order":{"field":"age"}}},
{"data":{"name":"blueB_ng"},"mark":{"type":"rule","color":"#2424b0","strokeWidth":3},"encoding":{"x2":{"datum":-40.3}}},
{"data":{"values":[{"age":58228,"v":-44.76,"label":"(B)"}]},"mark":{"type":"text","fontSize":17,"fontWeight":"bold"},"encoding":{"text":{"field":"label","type":"nominal"}}}
]
},
{
"width":74,"height":264,
"encoding":{"y":{"field":"age","type":"quantitative","scale":{"domain":[58265,58568],"reverse":true,"nice":false,"zero":false},"axis":null}},
"resolve":{"scale":{"x":"independent"},"axis":{"x":"independent"}},
"layer":[
{"encoding":{"x":{"field":"v","type":"quantitative","scale":{"domain":[1.028,1.0773],"nice":false,"zero":false},
"axis":{"orient":"top","title":["AU3","RABD₆₇₀"," "],"format":".2f","values":[1.03,1.0325,1.035,1.0375,1.04,1.0425,1.045,1.0475,1.05,1.0525,1.055,1.0575,1.06,1.0625,1.065,1.0675,1.07,1.0725,1.075],"labelExpr":"abs(datum.value-1.04)<0.000001 || abs(datum.value-1.06)<0.000001 ? datum.label : ''","tickSize":{"condition":{"test":"abs(datum.value-1.04)<0.000001 || abs(datum.value-1.06)<0.000001","value":4},"value":2},"labelPadding":1,"titlePadding":2}}},
"layer":[
{"data":{"name":"bgB"},"mark":{"type":"rect","color":"#b4ecf0"},"encoding":{"x":{"value":0},"x2":{"value":"width"},"y2":{"field":"age2"}}},
{"data":{"name":"auB_r"},"mark":{"type":"line","color":"#44585b","opacity":0.55,"strokeWidth":0.8,"clip":true},"encoding":{"order":{"field":"age"}}},
{"data":{"name":"dashB_au"},"mark":{"type":"rule","color":"#000000","strokeDash":[5,4],"strokeWidth":1.5},"encoding":{"x2":{"datum":1.028}}},
{"data":{"name":"auB_s"},"mark":{"type":"line","color":"#17363d","strokeWidth":1.4,"clip":true},"encoding":{"order":{"field":"age"}}},
{"data":{"name":"blueB"},"mark":{"type":"rule","color":"#2424b0","strokeWidth":3},"encoding":{"x":{"value":0},"x2":{"value":"width"}}},
{"data":{"name":"brB"},"mark":{"type":"errorbar","ticks":true,"color":"#000000","size":6,"thickness":1},"encoding":{"y2":{"field":"age2"}}},
{"data":{"name":"labB"},"mark":{"type":"text","fontSize":9,"fontWeight":"bold"},"encoding":{"text":{"field":"label","type":"nominal"}}},
{"data":{"name":"evB_au"},"mark":{"type":"text","fontSize":9.5,"fontWeight":"bold"},"encoding":{"text":{"field":"label","type":"nominal"}}}
]},
{"data":{"values":[{"t":20,"age":58565},{"t":40,"age":58565}]},"mark":{"type":"point","opacity":0},
"encoding":{"x":{"field":"t","type":"quantitative","scale":{"domain":[10.87,43.04],"nice":false,"zero":false},
"axis":{"orient":"bottom","offset":6,"title":"TChl-a [µg/g]","format":"d","values":[15,20,25,30,35,40],"labelExpr":"datum.value % 20 == 0 ? datum.label : ''","tickSize":{"condition":{"test":"datum.value % 20 == 0","value":4},"value":2},"labelPadding":1,"titlePadding":2}}}}
]
},
{
"width":75,"height":264,
"encoding":{
"y":{"field":"age","type":"quantitative","scale":{"domain":[58265,58568],"reverse":true,"nice":false,"zero":false},"axis":null},
"x":{"field":"v","type":"quantitative","scale":{"domain":[1.756,5.415],"nice":false,"zero":false},
"axis":{"orient":"top","title":["ELSA-20","Corg(chlorins)","[%]"],"titleX":46,"format":"d","values":[1.75,2,2.25,2.5,2.75,3,3.25,3.5,3.75,4,4.25,4.5,4.75,5,5.25],"labelExpr":"datum.value == 2 || datum.value == 4 ? datum.label : ''","tickSize":{"condition":{"test":"datum.value == 2 || datum.value == 4","value":4},"value":2},"labelPadding":1,"titlePadding":2}}
},
"layer":[
{"data":{"name":"bgB"},"mark":{"type":"rect","color":"#b4ecf0"},"encoding":{"x":{"value":0},"x2":{"value":"width"},"y2":{"field":"age2"}}},
{"data":{"name":"elB_r"},"mark":{"type":"line","color":"#555555","opacity":0.45,"strokeWidth":0.8,"clip":true},"encoding":{"order":{"field":"age"}}},
{"data":{"name":"elB_s"},"mark":{"type":"line","color":"#17363d","strokeWidth":1.4,"clip":true},"encoding":{"order":{"field":"age"}}},
{"data":{"name":"blueB_el"},"mark":{"type":"rule","color":"#2424b0","strokeWidth":3},"encoding":{"x2":{"datum":1.756}}},
{"data":{"name":"evB_el"},"mark":{"type":"text","fontSize":9.5,"fontWeight":"bold"},"encoding":{"text":{"field":"label","type":"nominal"}}},
{"data":{"name":"gsB"},"mark":{"type":"text","fontSize":17,"fontWeight":"bold"},"encoding":{"text":{"field":"label","type":"nominal"}}}
]
}
],
"config":{
"view":{"stroke":null},
"font":"Liberation Sans",
"axis":{"domainColor":"#000000","tickColor":"#000000","labelColor":"#000000","titleColor":"#000000","labelFontWeight":"bold","titleFontWeight":"bold","labelFontSize":9,"titleFontSize":10,"grid":false,"labelOverlap":false,"labelBound":false,"labelFlush":false,"titleLineHeight":13},
"text":{"color":"#000000"}
}
}
